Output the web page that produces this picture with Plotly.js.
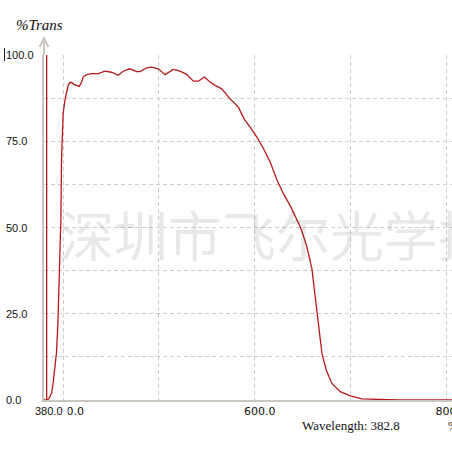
<!DOCTYPE html>
<html>
<head>
<meta charset="utf-8">
<script src="https://cdn.plot.ly/plotly-3.0.1.min.js"></script>
<style>
html,body{margin:0;padding:0;background:#fff;overflow:hidden;}
#chart{width:500px;height:452px;}
</style>
</head>
<body>
<div id="chart"></div>
<script>
// ---- data ----
const wavelength = [380, 382, 385, 388, 389.5, 391, 393, 394.5, 395.8, 397, 397.6, 398.3, 399.4, 400, 401.8, 403.5, 405.2, 407, 408.8, 411, 414, 416.7, 419.2, 420.9, 424.5, 429.7, 436.6, 443.6, 450.6, 457.5, 462.7, 469.7, 476.8, 480.2, 487.2, 492.4, 499.4, 506.4, 515, 522, 529, 536, 541.2, 547.5, 553.4, 558.6, 565.7, 574.3, 583, 589, 595.3, 602.3, 609.2, 616.2, 623, 630, 637, 644, 647.6, 651, 654.6, 659.8, 663.3, 666.7, 670.3, 674.8, 680.7, 689.4, 699.9, 712, 730, 750, 800, 850];
const transmission = [0, 0, 0.3, 2, 4.9, 8, 13.6, 22, 32.6, 45, 52, 69.5, 81, 83, 86.8, 89.5, 91.2, 92, 92.1, 91.5, 91.2, 90.9, 92.1, 93.6, 94.3, 94.6, 94.6, 95.3, 95.0, 94.1, 95.3, 96, 95.2, 95.2, 96.3, 96.5, 96.0, 94.3, 95.8, 95.3, 94.4, 92.4, 92.4, 93.6, 92.2, 91.2, 90.2, 87.3, 84.9, 81.5, 79.1, 76.2, 72.9, 69, 64, 59.8, 56.4, 52.1, 50.2, 47.5, 44.4, 38.1, 29.9, 21.2, 13.5, 8.7, 4.8, 2.4, 1.2, 0.3, 0.1, 0, 0, 0];
const cursorWavelength = 382.8;
const cursorRange = [0, 100];
const xRange = [380, 850];
const yRange = [0, 100];
const xGridVals = [400, 500, 600, 700, 800];
const xTickLabels = ['400.0', '', '600.0', '', '800.0'];
const yGridVals = [12.5, 25, 37.5, 50, 62.5, 75, 87.5];
const yTickVals = [0, 25, 50, 75, 100];
const yTitle = '%Trans';
const readoutLabel = 'Wavelength: ';
const watermark = '深圳市飞尔光学技术';

// ---- geometry helpers (pixel -> paper) ----
const L = 44, T = 55, W = 450, H = 345;
const px = x => (x - L) / W;
const py = y => (T + H - y) / H;

const lineColor = '#b51a1a';
const axisGrey = '#c9c6c0';
const gridGrey = '#cdcdcd';
const tickFont = {family: 'DejaVu Sans', size: 11, color: '#111'};
const smallFont = {family: 'Liberation Sans', size: 11, color: '#111'};

const traces = [
  {x: wavelength, y: transmission, type: 'scatter', mode: 'lines',
   line: {color: lineColor, width: 1.3}, hoverinfo: 'skip', showlegend: false},
  {x: [cursorWavelength, cursorWavelength], y: cursorRange, type: 'scatter', mode: 'lines',
   line: {color: lineColor, width: 1.3}, hoverinfo: 'skip', showlegend: false}
];

const annotations = [
  {text: watermark, xref: 'paper', yref: 'paper', x: px(58), y: py(233), xanchor: 'left', yanchor: 'middle',
   showarrow: false, font: {family: 'Noto Sans CJK SC', size: 54, color: 'rgba(0,0,0,0.09)'}},
  {text: '<i>' + yTitle + '</i>', xref: 'paper', yref: 'paper', x: px(14), y: py(25), xanchor: 'left', yanchor: 'middle',
   showarrow: false, font: {family: 'Liberation Serif', size: 15, color: '#111'}},
  {text: xRange[0].toFixed(1), xref: 'x', yref: 'paper', x: xRange[0], xshift: -10, y: py(411), xanchor: 'left', yanchor: 'middle',
   width: 32, align: 'left', bgcolor: '#ffffff', borderpad: 0, showarrow: false, font: smallFont},
  {text: readoutLabel + cursorWavelength.toFixed(1), xref: 'paper', yref: 'paper', x: px(300), y: py(425), xanchor: 'left', yanchor: 'middle',
   showarrow: false, font: {family: 'Liberation Serif', size: 13, color: '#111'}},
  {text: '%', xref: 'paper', yref: 'paper', x: px(446), y: py(425), xanchor: 'left', yanchor: 'middle',
   showarrow: false, font: {family: 'Liberation Serif', size: 13, color: '#111'}}
];
yTickVals.forEach(v => annotations.push({
  text: v.toFixed(1), xref: 'paper', yref: 'y', x: px(4), y: v, xanchor: 'left', yanchor: 'middle',
  showarrow: false, font: smallFont
}));

const shapes = [
  // y axis extension with open arrowhead
  {type: 'line', xref: 'paper', yref: 'paper', x0: 0, x1: 0, y0: 1, y1: py(38), line: {color: axisGrey, width: 2}},
  {type: 'path', xref: 'paper', yref: 'paper',
   path: `M ${px(39.5)} ${py(47)} L ${px(44)} ${py(38)} L ${px(48.5)} ${py(47)}`, line: {color: axisGrey, width: 2}},
  // text caret next to top label
  {type: 'line', xref: 'paper', yref: 'paper', x0: px(4.5), x1: px(4.5), y0: py(48), y1: py(61), line: {color: '#222', width: 1}}
];

const layout = {
  width: 500, height: 452,
  margin: {l: L, r: 500 - L - W, t: T, b: 452 - T - H, pad: 0},
  paper_bgcolor: '#fff', plot_bgcolor: '#fff',
  showlegend: false,
  xaxis: {range: xRange, tickvals: xGridVals, ticktext: xTickLabels, ticks: '',
          showgrid: true, gridcolor: gridGrey, gridwidth: 1, griddash: '4px,3px',
          showline: true, linecolor: axisGrey, linewidth: 2, layer: 'below traces',
          zeroline: false, tickfont: tickFont, ticklabelshift: 5, ticklabelstandoff: 0},
  yaxis: {range: yRange, tickvals: yGridVals, showticklabels: false, ticks: '',
          showgrid: true, gridcolor: gridGrey, gridwidth: 1, griddash: '4px,3px',
          showline: true, linecolor: axisGrey, linewidth: 2, layer: 'below traces',
          zeroline: false},
  annotations: annotations,
  shapes: shapes
};

Plotly.newPlot('chart', traces, layout, {staticPlot: true, displayModeBar: false});
</script>
</body>
</html>
